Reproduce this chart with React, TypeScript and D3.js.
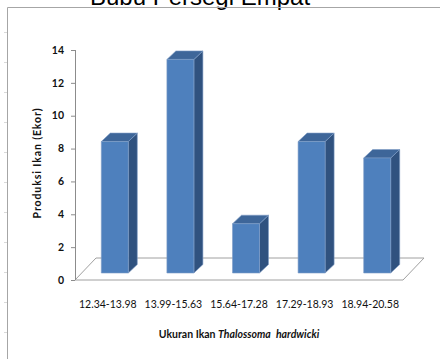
import React from 'react';
import * as d3 from 'd3';

const categories = ['12.34-13.98', '13.99-15.63', '15.64-17.28', '17.29-18.93', '18.94-20.58'];
const values = [8, 13, 3, 8, 7];
const yTicks = [0, 2, 4, 6, 8, 10, 12, 14];

const chartTitle = 'Bubu Persegi Empat';
const yTitle = 'Produksi Ikan (Ekor)';

const W = 440;
const H = 359;

// 3d look: floor depth and where the bars sit inside it
const floorDepth = { dx: 21, dy: -22 };
const barFront = { dx: 7, dy: -7 };
const barDepth = { dx: 9, dy: -8.5 };
const barWidth = 27;

const App: React.FC = () => {
  const x = d3.scaleBand<string>().domain(categories).range([75, 403]).padding(0);
  const y = d3.scaleLinear().domain([0, 14]).range([280, 50]);

  const x0 = x.range()[0];
  const x1 = x.range()[1];
  const y0 = y(0);

  const floor = [
    [x0, y0],
    [x1, y0],
    [x1 + floorDepth.dx, y0 + floorDepth.dy],
    [x0 + floorDepth.dx, y0 + floorDepth.dy],
  ];

  const font = 'Lato, "Open Sans", sans-serif';

  return (
    <svg
      width={W}
      height={H}
      viewBox={`0 0 ${W} ${H}`}
      style={{ position: 'absolute', left: 0, top: 0, background: '#fff' }}
    >
      {/* title, mostly cut off at top like the source picture */}
      <text x={200} y={5} textAnchor="middle" fontFamily="Arial, 'Liberation Sans', sans-serif" fontSize={24} fill="#000">
        {chartTitle}
      </text>

      {/* outer frame */}
      <path d={`M7.5,${H} V7.5 H${W}`} fill="none" stroke="#a6a6a6" strokeWidth={1} />
      {d3.range(32, H, 30).map((t) => (
        <line key={t} x1={4} x2={7} y1={t + 0.5} y2={t + 0.5} stroke="#d9d9d9" />
      ))}

      {/* floor */}
      <polygon points={floor.map((p) => p.join(',')).join(' ')} fill="#fff" stroke="#a0a0a0" strokeWidth={1} />

      {/* y axis */}
      <line x1={x0 + 0.5} x2={x0 + 0.5} y1={y(14)} y2={y0} stroke="#8c8c8c" />
      {yTicks.map((t) => (
        <g key={t}>
          <line x1={x0 - 4} x2={x0} y1={y(t) + 0.5} y2={y(t) + 0.5} stroke="#8c8c8c" />
          <text
            x={x0 - 11}
            y={y(t)}
            dy="0.35em"
            textAnchor="end"
            fontFamily={font}
            fontWeight="bold"
            fontSize={10.5}
            fill="#111"
          >
            {t}
          </text>
        </g>
      ))}

      {/* bars */}
      {categories.map((c, i) => {
        const cx = (x(c) ?? 0) + x.bandwidth() / 2 + barFront.dx;
        const bx = cx - barWidth / 2;
        const bottom = y0 + barFront.dy;
        const top = y(values[i]) + barFront.dy;
        const r = bx + barWidth;
        const side = [
          [r, top],
          [r + barDepth.dx, top + barDepth.dy],
          [r + barDepth.dx, bottom + barDepth.dy],
          [r, bottom],
        ];
        const lid = [
          [bx, top],
          [bx + barDepth.dx, top + barDepth.dy],
          [r + barDepth.dx, top + barDepth.dy],
          [r, top],
        ];
        return (
          <g key={c} stroke="#7d9cc6" strokeWidth={0.6} strokeLinejoin="round">
            <polygon points={side.map((p) => p.join(',')).join(' ')} fill="#30527f" />
            <polygon points={lid.map((p) => p.join(',')).join(' ')} fill="#3e6699" />
            <rect x={bx} y={top} width={barWidth} height={bottom - top} fill="#4e80bd" />
          </g>
        );
      })}

      {/* x labels */}
      {categories.map((c) => (
        <text
          key={c}
          x={(x(c) ?? 0) + x.bandwidth() / 2}
          y={308}
          textAnchor="middle"
          fontFamily={font}
          fontSize={10.5}
          fill="#111"
        >
          {c}
        </text>
      ))}

      {/* axis titles */}
      <text x={239} y={338} textAnchor="middle" fontFamily={font} fontWeight="bold" fontSize={10.5} fill="#111">
        Ukuran Ikan <tspan fontStyle="italic">Thalossoma</tspan>{'\u00a0 '}
        <tspan fontStyle="italic">hardwicki</tspan>
      </text>
      <text
        transform="translate(41,163) rotate(-90)"
        textAnchor="middle"
        fontFamily={font}
        fontWeight="bold"
        fontSize={10.5}
        letterSpacing={0.9}
        fill="#111"
      >
        {yTitle}
      </text>
    </svg>
  );
};

export default App;
